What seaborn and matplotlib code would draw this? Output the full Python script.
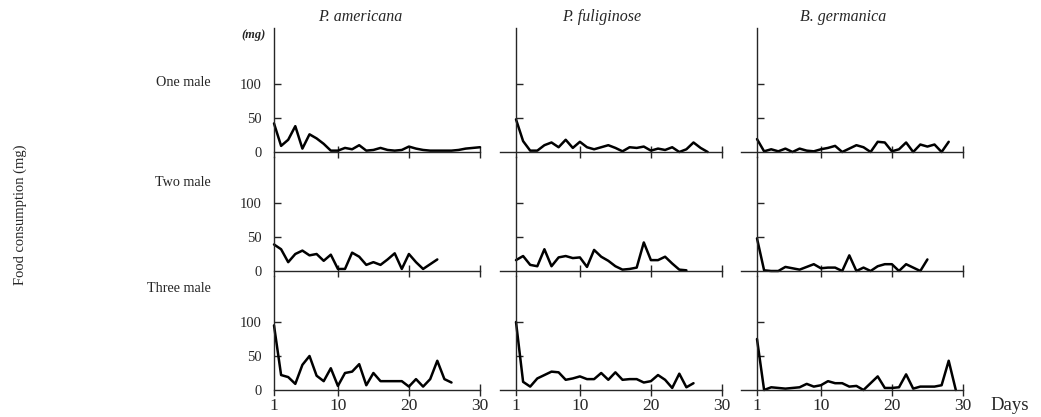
import matplotlib
matplotlib.use('Agg')
import matplotlib.pyplot as plt
import seaborn as sns
import pandas as pd

# species (columns) and group sizes (rows)
species = ['P. americana', 'P. fuliginose', 'B. germanica']
groups = ['One male', 'Two male', 'Three male']

# daily food consumption (mg)
am_one = [42, 9, 18, 38, 5, 26, 20, 12, 2, 2, 6, 4, 10, 2, 3, 6, 3, 2, 3, 8, 5, 3, 2, 2, 2, 2, 3, 5, 6, 7]
am_two = [39, 32, 13, 25, 30, 23, 25, 15, 24, 3, 3, 27, 21, 9, 13, 9, 17, 26, 3, 25, 13, 3, 10, 17]
am_three = [95, 22, 19, 9, 37, 50, 21, 13, 32, 6, 25, 27, 38, 7, 25, 13, 13, 13, 13, 5, 16, 5, 16, 43, 16, 11]

fu_one = [48, 16, 2, 2, 10, 14, 7, 18, 6, 15, 7, 4, 7, 10, 6, 1, 7, 6, 8, 2, 5, 3, 7, 0, 4, 14, 6, 0]
fu_two = [16, 22, 9, 7, 32, 7, 20, 22, 19, 20, 6, 31, 21, 15, 7, 2, 3, 5, 42, 16, 16, 21, 11, 2, 1]
fu_three = [100, 12, 5, 17, 22, 27, 26, 15, 17, 20, 16, 16, 25, 15, 26, 15, 16, 16, 11, 13, 22, 15, 3, 24, 4, 10]

ge_one = [19, 1, 4, 1, 5, 0, 5, 2, 1, 4, 6, 9, 0, 5, 10, 7, 0, 15, 14, 1, 4, 14, 0, 11, 8, 11, 0, 15]
ge_two = [48, 1, 0, 0, 6, 4, 2, 6, 10, 4, 5, 5, 0, 23, 0, 5, 0, 7, 10, 10, 0, 10, 5, 0, 17]
ge_three = [75, 0, 4, 3, 2, 3, 4, 9, 5, 7, 13, 10, 10, 5, 6, 0, 10, 20, 3, 3, 4, 23, 2, 5, 5, 5, 7, 43, 0]

data = [[am_one, fu_one, ge_one],
        [am_two, fu_two, ge_two],
        [am_three, fu_three, ge_three]]

x_ticks = [1, 10, 20, 30]
y_ticks = [0, 50, 100]

sns.set_style('ticks')
plt.rcParams['font.family'] = ['Liberation Serif', 'DejaVu Serif']
plt.rcParams['font.size'] = 10.5

W, H = 1041, 417
fig = plt.figure(figsize=(W / 100, H / 100), dpi=100)

px_day = 7.1
px_mg = 0.68
day1_x = [274, 516, 757]
zero_y = [152, 271, 390]
xlo, xhi = -1.3, 30.6
ylo = -8
ytop = [182, 167, 167]

for r in range(3):
    for c in range(3):
        left = day1_x[c] + (xlo - 1) * px_day
        width = (xhi - xlo) * px_day
        top = zero_y[r] - ytop[r] * px_mg
        height = (ytop[r] - ylo) * px_mg
        ax = fig.add_axes([left / W, 1 - (top + height) / H, width / W, height / H])

        vals = data[r][c]
        df = pd.DataFrame({'day': range(1, len(vals) + 1), 'mg': vals})
        sns.lineplot(data=df, x='day', y='mg', ax=ax, color='black', lw=1.8)

        ax.set_xlim(xlo, xhi)
        ax.set_ylim(ylo, ytop[r])
        ax.patch.set_visible(False)
        for s in ['top', 'right']:
            ax.spines[s].set_visible(False)
        ax.spines['left'].set_position(('data', 1))
        ax.spines['bottom'].set_position(('data', 0))
        ax.spines['bottom'].set_bounds(1 if c == 0 else xlo, 30)
        ax.spines['left'].set_linewidth(1.0)
        ax.spines['bottom'].set_linewidth(1.0)

        ax.set_xticks(x_ticks)
        ax.set_yticks(y_ticks)
        ax.tick_params(axis='x', direction='inout', length=8, width=1.0, pad=2, labelsize=12.5)
        ax.tick_params(axis='y', direction='in', length=5, width=1.0, pad=9, labelsize=10.5)
        ax.xaxis.get_major_ticks()[0].tick1line.set_visible(False)
        ax.yaxis.get_major_ticks()[0].tick1line.set_visible(False)
        if r < 2:
            ax.set_xticklabels([])
        if c > 0:
            ax.set_yticklabels([])
        ax.set_xlabel('')
        ax.set_ylabel('')

        if r == 0:
            fig.text((day1_x[c] + 86) / W, 1 - 17 / H, species[c], ha='center', va='center',
                     style='italic', fontsize=11.5)

for r in range(3):
    fig.text(211 / W, 1 - [82, 183, 288][r] / H, groups[r], ha='right', va='center', fontsize=10.2)

fig.text(254 / W, 1 - 35 / H, '(mg)', ha='center', va='center', style='italic', weight='bold', fontsize=9)
fig.text(20 / W, 1 - 215 / H, 'Food consumption (mg)', rotation=90, ha='center', va='center', fontsize=10.5)
fig.text(1010 / W, 1 - 405 / H, 'Days', ha='center', va='center', fontsize=13.5)

fig.savefig('out.png', dpi=100)
